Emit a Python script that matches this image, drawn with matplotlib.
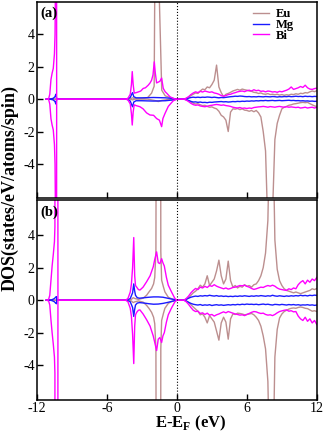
import numpy as np
import matplotlib
matplotlib.use('Agg')
import matplotlib.pyplot as plt

plt.rcParams['font.family'] = ['Liberation Serif', 'DejaVu Serif']
plt.rcParams['mathtext.fontset'] = 'custom'
plt.rcParams['mathtext.rm'] = 'Liberation Serif'
plt.rcParams['mathtext.bf'] = 'Liberation Serif:bold'
plt.rcParams['axes.unicode_minus'] = False

species = ['Eu', 'Mg', 'Bi']
colors = {'Eu': '#bc8f8f', 'Mg': '#1a1aff', 'Bi': '#ff00ff'}

# conduction band energy grid (eV)
ec = [0.6, 0.8, 1.0, 1.2, 1.4, 1.6, 1.8, 2.0, 2.2, 2.4,
      2.6, 2.8, 3.0, 3.2, 3.4, 3.6, 3.8, 4.0, 4.2, 4.4,
      4.6, 4.8, 5.0, 5.2, 5.4, 5.6, 5.8, 6.0, 6.2, 6.4,
      6.6, 6.8, 7.0, 7.2, 7.4, 7.6, 7.8, 8.0, 8.2, 8.4,
      8.6, 8.8, 9.0, 9.2, 9.4, 9.6, 9.8, 10.0, 10.2, 10.4,
      10.6, 10.8, 11.0, 11.2, 11.4, 11.6, 11.8, 12.0]

# ---------------- panel (a) ----------------
eu_a_up_e = [-11.2, -4.2, -3.9, -3.8, -3.7, -3.4, -2.8, -2.5, -2.17, -1.95,
             -1.9, -1.85, -1.55, -1.5, -1.3, -1.0, -0.6, -0.3, 0.0]
eu_a_up_v = [0, 0, 0.05, 0.08, 0.05, 0.02, 0.05, 0.1, 0.37, 0.8,
             6.5, 30, 30, 6, 0.55, 0.2, 0.1, 0.03, 0]
eu_a_dn_e = [-11.2, -4.0, -3.8, -3.6, -2.5, -1.8, -1.6, -1.3, -0.8, 0.0]
eu_a_dn_v = [0, 0, -0.05, 0, 0, -0.1, -0.15, -0.08, -0.03, 0]
eu_a_up_c = [0, 0.04, 0.12, 0.22, 0.3, 0.38, 0.35, 0.5, 0.62, 0.58,
             0.75, 0.7, 0.9, 1.17, 2.1, 0.75, 0.4, 0.15, 0.3, 0.35,
             0.42, 0.5, 0.55, 0.6, 0.55, 0.62, 0.58, 0.55, 0.5, 0.48,
             0.42, 0.4, 0.35, 0.38, 0.32, 0.3, 0.34, 0.28, 0.3, 0.27,
             0.3, 0.25, 0.28, 0.24, 0.27, 0.25, 0.3, 0.28, 0.33, 0.3,
             0.36, 0.34, 0.4, 0.38, 0.45, 0.5, 0.46, 0.52]
eu_a_dn_c = [0, -0.04, -0.1, -0.18, -0.25, -0.3, -0.28, -0.35, -0.4, -0.38,
             -0.45, -0.5, -0.48, -0.55, -0.6, -0.75, -1.0, -1.1, -1.3, -2.0,
             -0.8, -0.6, -0.62, -0.58, -0.65, -0.6, -0.68, -0.7, -0.75, -0.7,
             -0.78, -0.7, -0.85, -1.1, -2.0, -3.2, -8.0, -20.0, -7.0, -2.5,
             -1.5, -1.0, -0.6, -0.5, -0.45, -0.38, -0.35, -0.3, -0.28, -0.25,
             -0.22, -0.2, -0.22, -0.2, -0.28, -0.35, -0.42, -0.45]

mg_a_e = [-11.2, -10.9, -10.6, -10.45, -10.38, -10.3, -4.3, -4.0, -3.88, -3.8,
          -3.7, -3.5, -3.0, -2.0, -1.0, -0.3, 0.0]
mg_a_up_v = [0, 0, 0.05, 0.15, 0.3, 0, 0, 0.1, 0.3, 0.4,
             0.15, 0.08, 0.08, 0.1, 0.08, 0.04, 0]
mg_a_dn_v = [0, 0, -0.05, -0.15, -0.3, 0, 0, -0.12, -0.35, -0.47,
             -0.18, -0.1, -0.1, -0.12, -0.1, -0.05, 0]
mg_a_up_c = [0, 0.02, 0.06, 0.1, 0.12, 0.1, 0.12, 0.1, 0.12, 0.11,
             0.13, 0.12, 0.1, 0.12, 0.1, 0.08, 0.1, 0.09, 0.11, 0.13,
             0.15, 0.16, 0.18, 0.17, 0.19, 0.18, 0.16, 0.15, 0.16, 0.14,
             0.15, 0.14, 0.16, 0.15, 0.14, 0.16, 0.15, 0.14, 0.16, 0.15,
             0.13, 0.15, 0.14, 0.16, 0.15, 0.17, 0.15, 0.16, 0.18, 0.16,
             0.17, 0.15, 0.18, 0.16, 0.17, 0.15, 0.17, 0.16]
mg_a_dn_c = [0, -0.03, -0.08, -0.14, -0.18, -0.17, -0.2, -0.18, -0.21, -0.2,
             -0.22, -0.19, -0.2, -0.18, -0.17, -0.16, -0.15, -0.17, -0.16, -0.18,
             -0.17, -0.15, -0.16, -0.14, -0.15, -0.13, -0.14, -0.12, -0.13, -0.11,
             -0.12, -0.1, -0.11, -0.09, -0.1, -0.08, -0.1, -0.09, -0.08, -0.1,
             -0.09, -0.08, -0.1, -0.09, -0.08, -0.07, -0.09, -0.08, -0.1, -0.09,
             -0.11, -0.1, -0.12, -0.11, -0.13, -0.12, -0.14, -0.13]

bi_a_up_e = [-11.2, -11.0, -10.9, -10.8, -10.7, -10.6, -10.5, -10.45, -10.42, -10.4,
             -10.33, -10.31, -4.4, -4.2, -4.0, -3.9, -3.83, -3.75, -3.66, -3.5,
             -3.32, -3.1, -2.89, -2.7, -2.46, -2.3, -2.17, -2.05, -1.94, -1.85,
             -1.74, -1.6, -1.46, -1.31, -1.17, -1.0, -0.88, -0.6, -0.31, 0.0]
bi_a_up_v = [0, 0.02, 0.3, 1.2, 1.6, 1.9, 2.8, 4.0, 6.5, 30,
             30, 0, 0, 0.05, 0.3, 0.9, 1.7, 0.9, 0.37, 0.4,
             0.44, 0.5, 0.66, 0.7, 0.86, 1.0, 1.17, 1.5, 2.3, 1.6,
             1.0, 1.05, 1.1, 1.3, 0.66, 0.45, 0.37, 0.15, 0.04, 0]
bi_a_dn_e = [-11.2, -11.0, -10.9, -10.8, -10.7, -10.6, -10.5, -10.45, -10.42, -10.4,
             -10.33, -10.31, -4.4, -4.2, -4.0, -3.9, -3.83, -3.75, -3.66, -3.5,
             -3.17, -2.9, -2.6, -2.31, -2.0, -1.74, -1.5, -1.31, -1.2, -1.03,
             -0.74, -0.5, -0.31, 0.0]
bi_a_dn_v = [0, -0.02, -0.3, -1.2, -1.6, -1.9, -2.8, -4.0, -6.5, -30,
             -30, 0, 0, -0.05, -0.3, -0.9, -1.6, -0.8, -0.35, -0.4,
             -0.47, -0.6, -0.85, -0.98, -1.0, -1.2, -1.3, -1.7, -1.2, -0.9,
             -0.45, -0.25, -0.1, 0]
bi_a_up_c = [0, 0.06, 0.15, 0.28, 0.38, 0.45, 0.4, 0.48, 0.44, 0.5,
             0.46, 0.42, 0.45, 0.38, 0.35, 0.3, 0.22, 0.18, 0.22, 0.28,
             0.3, 0.36, 0.4, 0.45, 0.48, 0.5, 0.46, 0.52, 0.55, 0.5,
             0.58, 0.52, 0.55, 0.48, 0.5, 0.45, 0.5, 0.48, 0.44, 0.46,
             0.42, 0.48, 0.45, 0.5, 0.55, 0.62, 0.75, 0.6, 0.65, 0.7,
             0.78, 0.72, 0.86, 0.7, 0.62, 0.6, 0.65, 0.68]
bi_a_dn_c = [0, -0.06, -0.15, -0.26, -0.34, -0.38, -0.36, -0.42, -0.45, -0.47,
             -0.44, -0.4, -0.38, -0.35, -0.33, -0.35, -0.38, -0.36, -0.4, -0.42,
             -0.45, -0.5, -0.53, -0.55, -0.52, -0.57, -0.55, -0.58, -0.55, -0.57,
             -0.52, -0.5, -0.48, -0.47, -0.45, -0.47, -0.5, -0.46, -0.48, -0.5,
             -0.47, -0.45, -0.48, -0.5, -0.47, -0.5, -0.48, -0.5, -0.52, -0.5,
             -0.55, -0.53, -0.5, -0.55, -0.52, -0.5, -0.55, -0.5]

# ---------------- panel (b) ----------------
eu_b_e = [-11.2, -4.2, -3.9, -3.75, -3.6, -3.3, -2.9, -2.6, -2.4, -2.17,
          -2.0, -1.9, -1.8, -1.72, -1.42, -1.38, -1.31, -1.15, -1.03, -0.74,
          -0.5, -0.3, 0.0]
eu_b_up_v = [0, 0, 0.05, 0.15, 0.1, 0.05, 0.12, 0.3, 0.5, 0.72,
             1.0, 1.4, 3.0, 30, 30, 3.0, 1.23, 0.8, 0.51, 0.18,
             0.1, 0.05, 0]
eu_b_dn_v = [0, 0, -0.05, -0.15, -0.1, -0.05, -0.12, -0.32, -0.5, -0.75,
             -1.05, -1.45, -3.0, -30, -30, -3.0, -1.25, -0.8, -0.5, -0.2,
             -0.1, -0.05, 0]
eu_b_up_c = [0, 0.05, 0.15, 0.3, 0.45, 0.55, 0.7, 0.92, 0.8, 1.0,
             1.5, 0.9, 1.1, 1.3, 1.8, 2.46, 1.5, 1.0, 1.3, 2.4,
             1.2, 0.8, 0.9, 0.75, 0.85, 0.8, 0.95, 0.85, 0.9, 0.8,
             0.95, 1.0, 1.2, 1.5, 2.0, 2.9, 4.9, 12.0, 12.0, 3.7,
             1.9, 1.2, 0.9, 0.7, 0.6, 0.55, 0.5, 0.45, 0.5, 0.45,
             0.4, 0.45, 0.5, 0.55, 0.6, 0.7, 0.65, 0.72]
eu_b_dn_c = [0, -0.05, -0.14, -0.28, -0.42, -0.55, -0.68, -0.9, -0.85, -1.05,
             -1.4, -0.95, -1.15, -1.35, -1.9, -2.46, -1.4, -1.05, -1.35, -2.4,
             -1.15, -0.85, -0.88, -0.8, -0.82, -0.85, -0.9, -0.88, -0.85, -0.82,
             -0.9, -1.05, -1.25, -1.6, -2.2, -3.0, -5.0, -12.0, -12.0, -3.5,
             -1.8, -1.1, -0.85, -0.7, -0.62, -0.55, -0.5, -0.48, -0.5, -0.45,
             -0.42, -0.45, -0.5, -0.52, -0.6, -0.68, -0.65, -0.7]

mg_b_e = [-11.2, -10.9, -10.7, -10.5, -10.4, -10.32, -10.3, -4.3, -4.0, -3.8,
          -3.7, -3.63, -3.55, -3.4, -3.2, -2.8, -2.4, -2.0, -1.6, -1.2,
          -0.8, -0.4, -0.1, 0.0]
mg_b_up_v = [0, 0, 0.03, 0.1, 0.18, 0.22, 0, 0, 0.1, 0.45,
             1.0, 0.6, 0.3, 0.15, 0.12, 0.15, 0.18, 0.2, 0.2, 0.18,
             0.12, 0.06, 0.02, 0]
mg_b_dn_v = [0, 0, -0.03, -0.1, -0.18, -0.22, 0, 0, -0.1, -0.45,
             -1.0, -0.6, -0.3, -0.18, -0.15, -0.18, -0.22, -0.25, -0.24, -0.2,
             -0.14, -0.07, -0.02, 0]
mg_b_up_c = [0, 0.05, 0.12, 0.18, 0.22, 0.25, 0.23, 0.27, 0.25, 0.28,
             0.26, 0.3, 0.27, 0.25, 0.28, 0.24, 0.26, 0.23, 0.25, 0.22,
             0.24, 0.22, 0.25, 0.23, 0.26, 0.24, 0.27, 0.25, 0.23, 0.26,
             0.24, 0.27, 0.25, 0.28, 0.26, 0.24, 0.27, 0.25, 0.3, 0.26,
             0.24, 0.27, 0.25, 0.23, 0.26, 0.24, 0.27, 0.25, 0.28, 0.26,
             0.3, 0.27, 0.29, 0.26, 0.3, 0.28, 0.31, 0.29]
mg_b_dn_c = [0, -0.05, -0.13, -0.2, -0.25, -0.28, -0.3, -0.27, -0.32, -0.29,
             -0.31, -0.28, -0.33, -0.3, -0.28, -0.31, -0.29, -0.32, -0.3, -0.28,
             -0.3, -0.27, -0.29, -0.26, -0.28, -0.25, -0.27, -0.24, -0.26, -0.25,
             -0.27, -0.25, -0.28, -0.26, -0.24, -0.27, -0.25, -0.28, -0.3, -0.26,
             -0.27, -0.29, -0.26, -0.28, -0.3, -0.27, -0.29, -0.27, -0.3, -0.28,
             -0.31, -0.29, -0.3, -0.28, -0.31, -0.29, -0.32, -0.3]

bi_b_e = [-11.2, -11.0, -10.9, -10.8, -10.7, -10.6, -10.5, -10.46, -10.44, -10.22,
          -10.2, -4.4, -4.2, -4.0, -3.9, -3.8, -3.7, -3.62, -3.55, -3.45,
          -3.3, -3.17, -2.9, -2.6, -2.3, -2.03, -1.9, -1.74, -1.6, -1.46,
          -1.31, -1.2, -1.08, -0.9, -0.74, -0.46, -0.17, 0.0]
bi_b_up_v = [0, 0.05, 0.3, 1.2, 2.1, 2.8, 3.6, 4.5, 30, 30,
             0, 0, 0.1, 0.5, 1.0, 2.0, 3.85, 1.5, 0.9, 0.8,
             0.65, 0.62, 0.8, 1.13, 1.5, 2.05, 2.5, 2.97, 2.3, 2.25,
             2.55, 2.3, 2.1, 1.4, 0.92, 0.5, 0.1, 0]
bi_b_dn_v = [0, -0.05, -0.3, -1.2, -2.0, -2.7, -3.5, -4.5, -30, -30,
             0, 0, -0.1, -0.5, -1.0, -2.1, -3.9, -1.6, -0.9, -0.75,
             -0.62, -0.6, -0.85, -1.2, -1.6, -2.2, -2.6, -3.1, -2.4, -2.3,
             -2.6, -2.2, -2.0, -1.35, -0.9, -0.48, -0.1, 0]
bi_b_up_c = [0, 0.1, 0.25, 0.45, 0.6, 0.72, 0.65, 0.8, 0.75, 0.85,
             0.78, 0.9, 0.85, 0.95, 0.86, 0.8, 0.75, 0.7, 0.75, 0.68,
             0.72, 0.78, 0.8, 0.85, 0.9, 0.88, 0.92, 0.85, 0.8, 0.72,
             0.66, 0.7, 0.75, 0.8, 0.78, 0.85, 0.9, 0.86, 0.92, 0.86,
             0.75, 0.68, 0.65, 0.62, 0.6, 0.7, 0.65, 0.75, 0.7, 0.95,
             1.1, 1.2, 1.0, 1.23, 1.1, 1.3, 1.2, 1.4]
bi_b_dn_c = [0, -0.1, -0.26, -0.45, -0.62, -0.7, -0.68, -0.82, -0.78, -0.88,
             -0.8, -0.92, -0.88, -0.98, -0.9, -0.85, -0.78, -0.72, -0.78, -0.7,
             -0.75, -0.8, -0.85, -0.88, -0.92, -0.9, -0.95, -0.88, -0.82, -0.75,
             -0.7, -0.72, -0.78, -0.82, -0.8, -0.88, -0.92, -0.9, -0.95, -0.88,
             -0.78, -0.7, -0.66, -0.62, -0.6, -0.68, -0.65, -0.72, -0.7, -0.98,
             -1.15, -1.25, -1.05, -1.3, -1.15, -1.4, -1.25, -1.5]

panels = {
    'a': {
        'Eu': [(eu_a_up_e, eu_a_up_v, eu_a_up_c), (eu_a_dn_e, eu_a_dn_v, eu_a_dn_c)],
        'Mg': [(mg_a_e, mg_a_up_v, mg_a_up_c), (mg_a_e, mg_a_dn_v, mg_a_dn_c)],
        'Bi': [(bi_a_up_e, bi_a_up_v, bi_a_up_c), (bi_a_dn_e, bi_a_dn_v, bi_a_dn_c)],
    },
    'b': {
        'Eu': [(eu_b_e, eu_b_up_v, eu_b_up_c), (eu_b_e, eu_b_dn_v, eu_b_dn_c)],
        'Mg': [(mg_b_e, mg_b_up_v, mg_b_up_c), (mg_b_e, mg_b_dn_v, mg_b_dn_c)],
        'Bi': [(bi_b_e, bi_b_up_v, bi_b_up_c), (bi_b_e, bi_b_dn_v, bi_b_dn_c)],
    },
}

fig = plt.figure(figsize=(3.27, 4.34), dpi=100)
ax1 = fig.add_axes([0.113, 0.544, 0.856, 0.4515])
ax2 = fig.add_axes([0.113, 0.078, 0.856, 0.4608])

for ax, key, ylim in [(ax1, 'a', (-6.1, 6.0)), (ax2, 'b', (-6.15, 6.15))]:
    for sp in species:
        for i, (e, v, c) in enumerate(panels[key][sp]):
            x = list(e) + ec
            y = list(v) + c
            ax.plot(x, y, color=colors[sp], lw=1.0,
                    label=sp if i == 0 else None)
    ax.axvline(0, color='k', ls=':', lw=0.8)
    ax.set_xlim(-12, 12)
    ax.set_ylim(*ylim)
    ax.set_yticks([-4, -2, 0, 2, 4])
    ax.set_xticks([-12, -6, 0, 6, 12])
    ax.tick_params(direction='in', length=4, width=1, labelsize=10, pad=1.5)
    for s in ax.spines.values():
        s.set_linewidth(1.1)
    ax.text(0.012, 0.975, '(%s)' % key, transform=ax.transAxes,
            fontweight='bold', fontsize=10.5, va='top', ha='left')

ax1.tick_params(labelbottom=False)
ax1.legend(loc='upper right', bbox_to_anchor=(0.94, 1.0), frameon=False,
           handlelength=1.3, handletextpad=0.5, labelspacing=-0.1,
           borderaxespad=0.1, prop={'weight': 'bold', 'size': 9})

fig.text(0.032, 0.566, 'DOS(states/eV/atoms/spin)', rotation=90,
         fontweight='bold', fontsize=13, ha='center', va='center')
fig.text(0.584, 0.024, r'E-E$_\mathbf{F}$ (eV)', fontweight='bold',
         fontsize=12, ha='center', va='center')

fig.savefig('out.png', dpi=100)
